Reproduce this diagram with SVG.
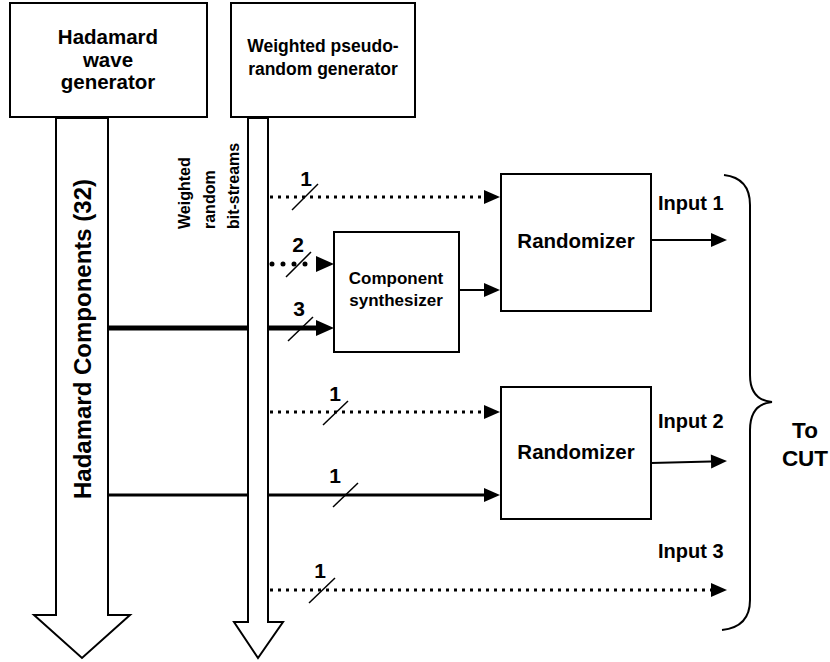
<svg xmlns="http://www.w3.org/2000/svg" width="830" height="662" viewBox="0 0 830 662">
<style>
text{font-family:"Liberation Sans",Arial,sans-serif;font-weight:bold;fill:#000}
.box{fill:#fff;stroke:#000;stroke-width:2}
.shaft{fill:#fff;stroke:#000;stroke-width:2;stroke-linejoin:miter}
.lbl{font-size:20.5px;text-anchor:middle}
.num{font-size:21px;text-anchor:middle}
.solid{stroke:#000;fill:none}
.dot{stroke:#000;fill:none;stroke-width:3;stroke-dasharray:3 5}
.bigdot{stroke:#000;fill:none;stroke-width:5;stroke-dasharray:0 11;stroke-linecap:round}
.slash{stroke:#000;stroke-width:1.5}
.inp{font-size:20px}
.rot{font-size:16px}
</style>
<defs>
<marker id="ah" markerUnits="userSpaceOnUse" markerWidth="16" markerHeight="14" refX="0" refY="7" orient="auto" overflow="visible">
<path d="M0,0 L16,7 L0,14 z" fill="#000"/>
</marker>
<marker id="ahb" markerUnits="userSpaceOnUse" markerWidth="18" markerHeight="16" refX="0" refY="8" orient="auto" overflow="visible">
<path d="M0,0 L18,8 L0,16 z" fill="#000"/>
</marker>
</defs>
<g id="connectors">
<line class="solid" x1="108" y1="328" x2="316" y2="328" stroke-width="5" marker-end="url(#ahb)"/>
<line class="solid" x1="108" y1="495" x2="484" y2="495" stroke-width="3" marker-end="url(#ah)"/>
<line class="dot" x1="270" y1="197" x2="484" y2="197" marker-end="url(#ah)"/>
<line class="bigdot" x1="272" y1="264" x2="316" y2="264" marker-end="url(#ahb)"/>
<line class="dot" x1="270" y1="412" x2="484" y2="412" marker-end="url(#ah)"/>
<line class="dot" x1="270" y1="590" x2="711" y2="590" marker-end="url(#ah)"/>
<line class="solid" x1="459" y1="290" x2="484" y2="290" stroke-width="2" marker-end="url(#ah)"/>
<line class="solid" x1="651" y1="240" x2="711" y2="240" stroke-width="2" marker-end="url(#ah)"/>
<line class="solid" x1="651" y1="463" x2="711" y2="461.5" stroke-width="2" marker-end="url(#ah)"/>
<line class="slash" x1="292" y1="210" x2="318" y2="184"/>
<line class="slash" x1="286" y1="277" x2="311" y2="252"/>
<line class="slash" x1="288" y1="341" x2="313" y2="317"/>
<line class="slash" x1="323" y1="425" x2="348" y2="401"/>
<line class="slash" x1="333" y1="507" x2="358" y2="483"/>
<line class="slash" x1="309" y1="603" x2="335" y2="578"/>
<text class="num" x="306" y="186">1</text>
<text class="num" x="298" y="252">2</text>
<text class="num" x="299" y="316">3</text>
<text class="num" x="335" y="401">1</text>
<text class="num" x="335" y="483">1</text>
<text class="num" x="320" y="578">1</text>
</g>
<g id="hadamard-arrow">
<polygon class="shaft" points="56,118 108,118 108,615 130,615 82,658 34,615 56,615"/>
<text font-size="24" text-anchor="middle" transform="translate(91,339) rotate(-90)">Hadamard Components (32)</text>
</g>
<g id="bitstream-arrow">
<polygon class="shaft" points="248,118 268,118 268,622 283,622 258,658 234,622 248,622"/>
</g>
<g id="bitstream-label">
<text class="rot" transform="translate(190,229) rotate(-90)">Weighted</text>
<text class="rot" transform="translate(215,229) rotate(-90)">random</text>
<text class="rot" transform="translate(239,229) rotate(-90)">bit-streams</text>
</g>
<g id="hadamard-generator">
<rect class="box" x="10" y="3" width="197" height="114"/>
<text class="lbl" x="108" y="44">Hadamard</text>
<text class="lbl" x="108" y="67">wave</text>
<text class="lbl" x="108" y="89">generator</text>
</g>
<g id="prng">
<rect class="box" x="231" y="3" width="184" height="114"/>
<text class="lbl" x="323" y="52" style="font-size:17.5px">Weighted pseudo-</text>
<text class="lbl" x="323" y="75" style="font-size:17.5px">random generator</text>
</g>
<g id="synthesizer">
<rect class="box" x="334" y="232" width="125" height="120"/>
<text class="lbl" x="396" y="284" style="font-size:17px">Component</text>
<text class="lbl" x="396" y="306" style="font-size:17px">synthesizer</text>
</g>
<g id="randomizer1">
<rect class="box" x="501" y="174" width="150" height="137"/>
<text class="lbl" x="576" y="248">Randomizer</text>
</g>
<g id="randomizer2">
<rect class="box" x="501" y="387" width="150" height="132"/>
<text class="lbl" x="576" y="459">Randomizer</text>
</g>
<g id="outputs">
<text class="inp" x="658" y="210">Input 1</text>
<text class="inp" x="658" y="428">Input 2</text>
<text class="inp" x="658" y="558">Input 3</text>
<path d="M724,175 Q750,178 750,205 L750,375 Q750,400 772,402 Q750,404 750,430 L750,600 Q750,627 722,630" fill="none" stroke="#000" stroke-width="2"/>
<text class="lbl" x="805" y="438" style="font-size:22.5px">To</text>
<text class="lbl" x="805" y="466" style="font-size:22.5px">CUT</text>
</g>
</svg>
